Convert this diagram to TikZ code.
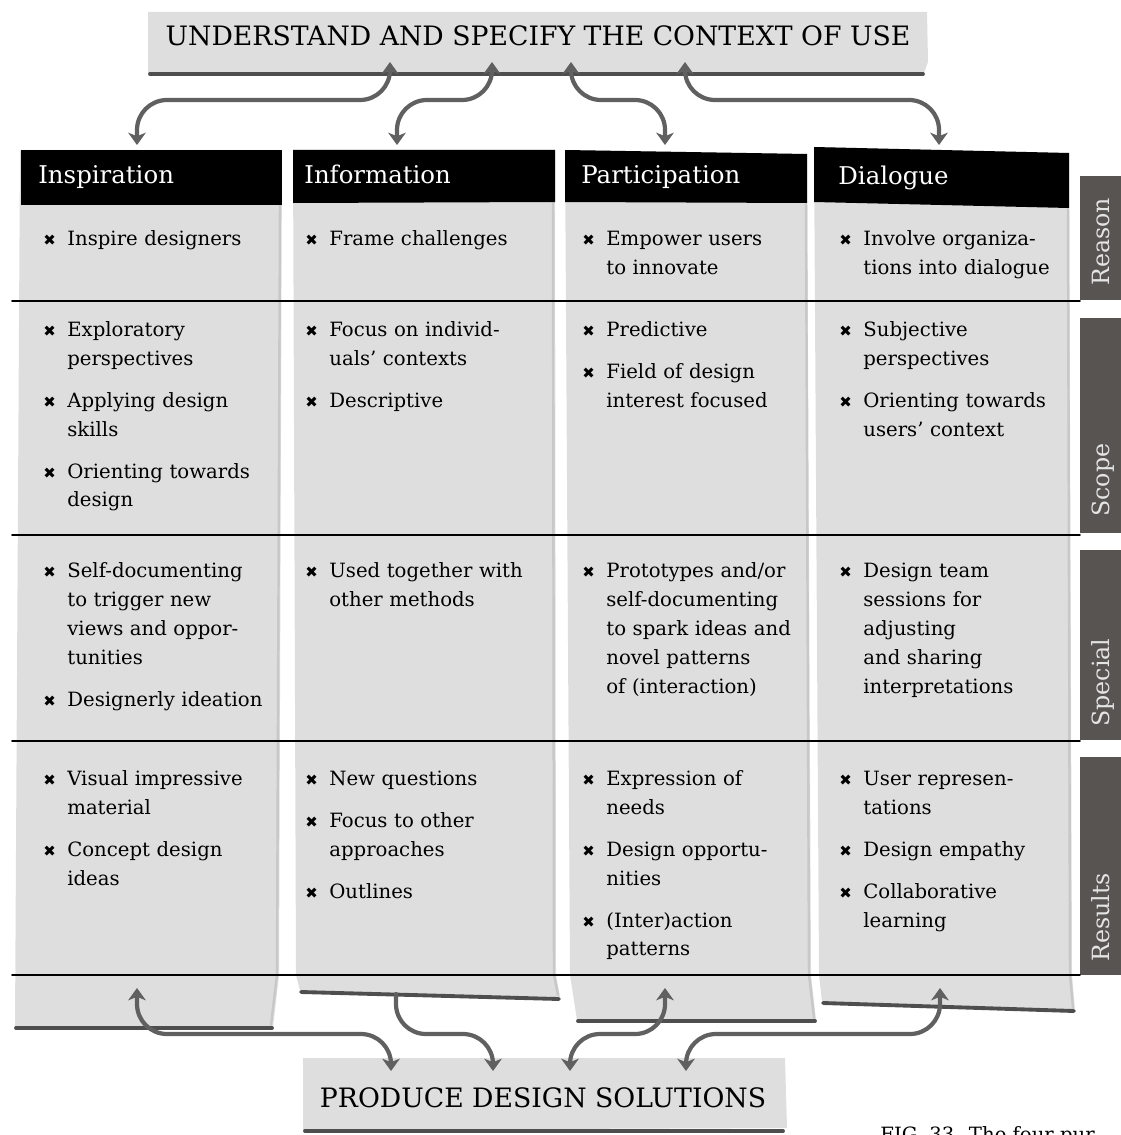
\documentclass[tikz,border=0pt]{standalone}
\usepackage{fontspec}
\setmainfont{DejaVu Serif}
\newfontfamily\symfont{DejaVu Sans}
\usepackage{tikz}
\usetikzlibrary{arrows.meta,calc}
\definecolor{paper}{RGB}{222,222,222}
\definecolor{paperedge}{RGB}{200,200,200}
\definecolor{shadowgray}{RGB}{78,78,78}
\definecolor{linkgray}{RGB}{96,96,96}
\definecolor{tabgray}{RGB}{88,84,82}
\definecolor{tabtext}{RGB}{228,228,228}
\newcommand{\bulsym}{{\symfont\fontsize{8.5}{10}\selectfont ✖}}
\newcommand{\itm}[1]{\hangindent=0.48cm\hangafter=1\noindent\strut\makebox[0.48cm][l]{\bulsym}#1\par}
\newcommand{\gap}{\vspace{0.26cm}}

\begin{document}
\begin{tikzpicture}[line cap=round,line join=round,x=0.02cm,y=-0.02cm,
    >={Stealth[length=7pt,width=10pt,inset=2pt]},
    cell/.style={anchor=north west,inner sep=0pt,text width=4.9cm,align=left,font=\fontsize{11.2}{16.44}\selectfont},
    hdr/.style={anchor=base west,inner sep=0pt,text=white,font=\fontsize{13.9}{16}\selectfont},
    banner/.style={inner sep=0pt,font=\fontsize{15.2}{17}\selectfont},
    tab/.style={rotate=90,anchor=base west,inner sep=0pt,text=tabtext,font=\fontsize{13.5}{16}\selectfont},
    shadowline/.style={shadowgray,line width=2.2pt},
    edgeline/.style={paperedge,line width=1.4pt},
    rowline/.style={black,line width=0.9pt},
    link/.style={<->,linkgray,line width=2.4pt,rounded corners=0.6cm}]
    \useasboundingbox (0,0) rectangle (1121,1135);
    \clip (0,0) rectangle (1121,1135);

    % banners
    \fill[paper] (148,12) -- (927,12) -- (928,62) -- (924,73) -- (148,73) -- cycle;
    \draw[shadowline] (150,74) -- (923,74);
    \node[banner] (ctx) at (538,36) {UNDERSTAND AND SPECIFY THE CONTEXT OF USE};
    \fill[paper] (303,1058) -- (785,1058) -- (787,1128) -- (303,1130) -- cycle;
    \draw[shadowline] (305,1131) -- (783,1131);
    \node[banner] (prod) at (543,1098) {PRODUCE DESIGN SOLUTIONS};

    % columns
    \fill[paper] (20,150) -- (282,150) -- (279,975) -- (273,1027) -- (15,1027) -- cycle;
    \draw[edgeline] (280,205) -- (277,975) -- (271,1025);
    \draw[shadowline] (16,1028) -- (272,1028);
    \fill[paper] (293,150) -- (555,150) -- (556,975) -- (560,997) -- (300,991) -- (296,975) -- cycle;
    \draw[edgeline] (553,203) -- (554,975) -- (558,995);
    \draw[shadowline] (301,992) -- (559,999);
    \fill[paper] (565,150) -- (807,154) -- (811,975) -- (816,1020) -- (577,1020) -- (570,975) -- cycle;
    \draw[edgeline] (806,204) -- (809,975) -- (814,1018);
    \draw[shadowline] (578,1021) -- (815,1021);
    \fill[paper] (814,147) -- (1069,153) -- (1072,975) -- (1075,1010) -- (822,1002) -- (819,975) -- cycle;
    \draw[edgeline] (1068,209) -- (1070,975) -- (1073,1008);
    \draw[shadowline] (823,1003) -- (1074,1011);

    % headers
    \fill[black] (21,150) -- (282,150) -- (282,205) -- (21,205) -- cycle;
    \fill[black] (293,150) -- (555,150) -- (555,202) -- (293,203) -- cycle;
    \fill[black] (565,150) -- (807,154) -- (807,203) -- (565,202) -- cycle;
    \fill[black] (814,147) -- (1069,153) -- (1069,208) -- (814,202) -- cycle;
    \node[hdr] (insp) at (38,184) {Inspiration};
    \node[hdr] (info) at (304,184) {Information};
    \node[hdr] (part) at (581,184) {Participation};
    \node[hdr] (dial) at (838,185) {Dialogue};

    % row tabs
    \fill[tabgray] (1080,176) rectangle (1121,300);
    \fill[tabgray] (1080,318) rectangle (1121,533);
    \fill[tabgray] (1080,550) rectangle (1121,740);
    \fill[tabgray] (1080,757) rectangle (1121,975);
    \node[tab] (reason) at (1109,286) {Reason};
    \node[tab] (scope) at (1109,517) {Scope};
    \node[tab] (special) at (1109,727) {Special};
    \node[tab] (results) at (1109,962) {Results};
    \foreach \yy in {301,535,741,975}
        \draw[rowline] (12,\yy) -- (1080,\yy);

    % cells
    \node[cell] (insp-reason) at (43,225) {\itm{Inspire designers}};
    \node[cell] (insp-scope) at (43,316) {\itm{Exploratory\newline perspectives}\gap
        \itm{Applying design\newline skills}\gap\itm{Orienting towards\newline design}};
    \node[cell] (insp-special) at (43,557) {\itm{Self-documenting\newline to trigger new\newline views and oppor-\newline tunities}\gap
        \itm{Designerly ideation}};
    \node[cell] (insp-results) at (43,765) {\itm{Visual impressive\newline material}\gap\itm{Concept design\newline ideas}};

    \node[cell] (info-reason) at (305,225) {\itm{Frame challenges}};
    \node[cell] (info-scope) at (305,316) {\itm{Focus on individ-\newline uals' contexts}\gap\itm{Descriptive}};
    \node[cell] (info-special) at (305,557) {\itm{Used together with\newline other methods}};
    \node[cell] (info-results) at (305,765) {\itm{New questions}\gap\itm{Focus to other\newline approaches}\gap\itm{Outlines}};

    \node[cell] (part-reason) at (582,225) {\itm{Empower users\newline to innovate}};
    \node[cell] (part-scope) at (582,316) {\itm{Predictive}\gap\itm{Field of design\newline interest focused}};
    \node[cell] (part-special) at (582,557) {\itm{Prototypes and/or\newline self-documenting\newline to spark ideas and\newline novel patterns\newline of (interaction)}};
    \node[cell] (part-results) at (582,765) {\itm{Expression of\newline needs}\gap\itm{Design opportu-\newline nities}\gap
        \itm{(Inter)action\newline patterns}};

    \node[cell] (dial-reason) at (839,225) {\itm{Involve organiza-\newline tions into dialogue}};
    \node[cell] (dial-scope) at (839,316) {\itm{Subjective\newline perspectives}\gap\itm{Orienting towards\newline users' context}};
    \node[cell] (dial-special) at (839,557) {\itm{Design team\newline sessions for\newline adjusting\newline and sharing\newline interpretations}};
    \node[cell] (dial-results) at (839,765) {\itm{User represen-\newline tations}\gap\itm{Design empathy}\gap
        \itm{Collaborative\newline learning}};

    % links to the two activities
    \coordinate (ltop) at (0,100);
    \coordinate (lbot) at (0,1034);
    \coordinate (u1) at (390,62);
    \coordinate (u2) at (492,62);
    \coordinate (u3) at (571,62);
    \coordinate (u4) at (685,62);
    \coordinate (d1) at (137,145);
    \coordinate (d2) at (397,145);
    \coordinate (d3) at (665,145);
    \coordinate (d4) at (939,145);
    \draw[link] (u1) -- (u1 |- ltop) -- (d1 |- ltop) -- (d1);
    \draw[link] (u2) -- (u2 |- ltop) -- (d2 |- ltop) -- (d2);
    \draw[link] (u3) -- (u3 |- ltop) -- (d3 |- ltop) -- (d3);
    \draw[link] (u4) -- (u4 |- ltop) -- (d4 |- ltop) -- (d4);
    \coordinate (b1) at (137,988);
    \coordinate (b2) at (396,994);
    \coordinate (b3) at (665,988);
    \coordinate (b4) at (940,988);
    \coordinate (p1) at (391,1071);
    \coordinate (p2) at (493,1071);
    \coordinate (p3) at (570,1071);
    \coordinate (p4) at (686,1071);
    \draw[link] (b1) -- (b1 |- lbot) -- (p1 |- lbot) -- (p1);
    \draw[link,->] (b2) -- (b2 |- lbot) -- (p2 |- lbot) -- (p2);
    \draw[link] (b3) -- (b3 |- lbot) -- (p3 |- lbot) -- (p3);
    \draw[link] (b4) -- (b4 |- lbot) -- (p4 |- lbot) -- (p4);

    \node[anchor=base west,inner sep=0pt,font=\fontsize{11.2}{13}\selectfont] (fig) at (880,1141) {FIG. 33. The four pur};
\end{tikzpicture}
\end{document}
